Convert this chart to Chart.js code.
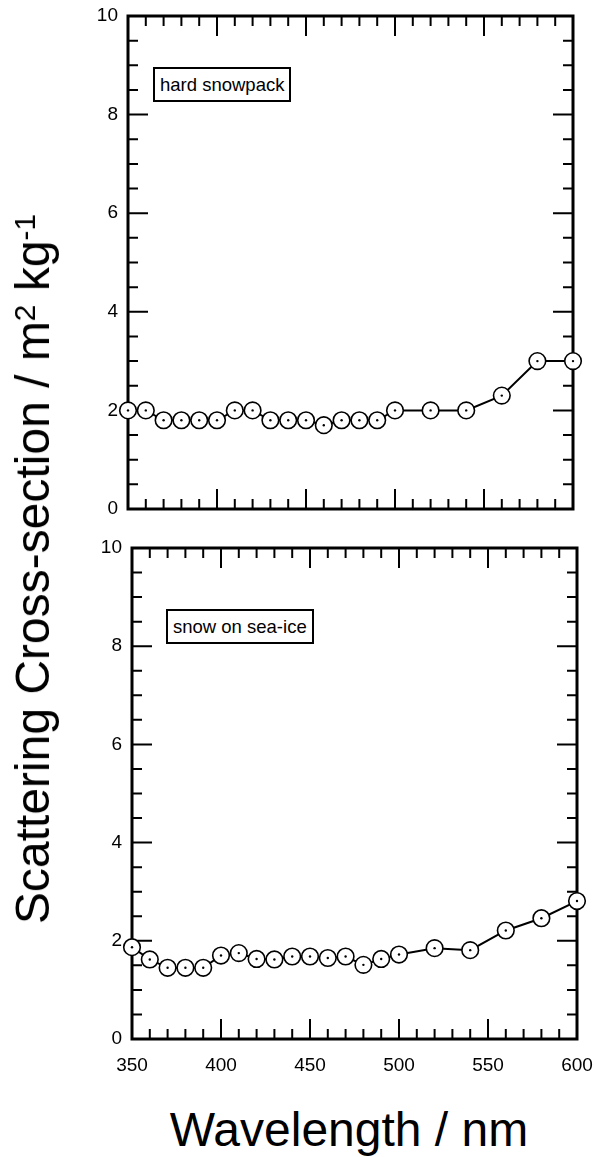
<!DOCTYPE html>
<html>
<head>
<meta charset="utf-8">
<script src="https://cdn.jsdelivr.net/npm/chart.js@4.4.1/dist/chart.umd.min.js"></script>
<style>
  body { margin: 0; background: #fff; font-family: "Liberation Sans", Arial, sans-serif; }
  #wrap { position: relative; width: 595px; height: 1157px; overflow: hidden; }
  canvas { position: absolute; left: 0; }
  #topPanel { top: 0; }
  #bottomPanel { top: 530px; }
  .tag {
    position: absolute; border: 2px solid #000; background: #fff;
    font-size: 18.5px; line-height: 31px; padding: 0 5px; white-space: nowrap; color: #000;
  }
  .axisTitle { position: absolute; font-size: 48px; line-height: 48px; white-space: nowrap; color: #000; }
  .axisTitle .sup { font-size: 30px; position: relative; top: -14px; }
  #ytitle { left: 36px; top: 569px; transform: translate(-50%, -50%) rotate(-90deg); }
  #xtitle { left: 349px; top: 1106px; transform: translateX(-50%); }
</style>
</head>
<body>
<div id="wrap">
  <canvas id="topPanel" width="595" height="530"></canvas>
  <canvas id="bottomPanel" width="595" height="560"></canvas>
  <div class="tag" style="left:153px; top:67px;">hard snowpack</div>
  <div class="tag" style="left:166px; top:609px;">snow on sea-ice</div>
  <div class="axisTitle" id="ytitle">Scattering Cross-section / m<span class="sup">2</span> kg<span class="sup">-1</span></div>
  <div class="axisTitle" id="xtitle">Wavelength / nm</div>
</div>
<script>
// wavelength (nm) and scattering cross-section (m2 kg-1)
const wavelength = [350, 360, 370, 380, 390, 400, 410, 420, 430, 440, 450, 460, 470, 480, 490, 500, 520, 540, 560, 580, 600];
const hardSnowpack = [2.0, 2.0, 1.8, 1.8, 1.8, 1.8, 2.0, 2.0, 1.8, 1.8, 1.8, 1.7, 1.8, 1.8, 1.8, 2.0, 2.0, 2.0, 2.3, 3.0, 3.0];
const snowOnSeaIce = [1.87, 1.62, 1.45, 1.45, 1.45, 1.70, 1.75, 1.63, 1.62, 1.68, 1.68, 1.65, 1.68, 1.51, 1.63, 1.72, 1.85, 1.81, 2.21, 2.46, 2.81];

const X_MIN = 350, X_MAX = 600, X_STEP = 50, X_MINOR = 10;
const Y_MIN = 0, Y_MAX = 10, Y_STEP = 2, Y_MINOR = 0.5;

Chart.defaults.font.family = '"Liberation Sans", Arial, sans-serif';
Chart.defaults.font.size = 19;
Chart.defaults.color = '#000';

// box frame with inward ticks on all four sides
const frameTicks = {
  id: 'frameTicks',
  beforeDatasetsDraw(chart) {
    const { ctx, chartArea: a, scales: { x, y } } = chart;
    ctx.save();
    ctx.strokeStyle = '#000';
    ctx.lineWidth = 2;
    ctx.beginPath();
    for (let v = X_MIN; v <= X_MAX + 1e-9; v += X_MINOR) {
      const px = x.getPixelForValue(v);
      const len = Math.abs(v % X_STEP) < 1e-9 ? 20 : 10;
      ctx.moveTo(px, a.bottom); ctx.lineTo(px, a.bottom - len);
      ctx.moveTo(px, a.top); ctx.lineTo(px, a.top + len);
    }
    for (let v = Y_MIN; v <= Y_MAX + 1e-9; v += Y_MINOR) {
      const py = y.getPixelForValue(v);
      const len = Math.abs(v % Y_STEP) < 1e-9 ? 20 : 10;
      ctx.moveTo(a.left, py); ctx.lineTo(a.left + len, py);
      ctx.moveTo(a.right, py); ctx.lineTo(a.right - len, py);
    }
    ctx.stroke();
    ctx.lineWidth = 3;
    ctx.strokeRect(a.left, a.top, a.right - a.left, a.bottom - a.top);
    ctx.restore();
  }
};

function makePanel(id, values, showX, padding) {
  const pts = wavelength.map((w, i) => ({ x: w, y: values[i] }));
  return new Chart(document.getElementById(id), {
    type: 'line',
    data: {
      datasets: [
        {
          data: pts, order: 0, showLine: false, clip: false,
          pointRadius: 1.2, pointBorderWidth: 0, pointBackgroundColor: '#000'
        },
        {
          data: pts, order: 1, clip: false,
          borderColor: '#000', borderWidth: 2, tension: 0,
          pointRadius: 8.3, pointBorderWidth: 1.6,
          pointBorderColor: '#000', pointBackgroundColor: '#fff'
        }
      ]
    },
    options: {
      responsive: false,
      animation: false,
      events: [],
      layout: { padding },
      plugins: { legend: { display: false }, tooltip: { enabled: false } },
      scales: {
        x: {
          type: 'linear', min: X_MIN, max: X_MAX,
          grid: { display: false, drawTicks: false },
          border: { display: false },
          ticks: { display: showX, stepSize: X_STEP, autoSkip: false, maxRotation: 0, padding: 15 },
          afterFit: s => {
            s.height = showX ? 40 : 0;
            s.paddingLeft = 0;
            s.paddingRight = 0;
          }
        },
        y: {
          min: Y_MIN, max: Y_MAX,
          grid: { display: false, drawTicks: false },
          border: { display: false },
          ticks: { stepSize: Y_STEP, padding: 10 },
          afterFit: s => {
            s.width = 60;
            s.paddingTop = 0;
            s.paddingBottom = 0;
          }
        }
      }
    },
    plugins: [frameTicks]
  });
}

makePanel('topPanel', hardSnowpack, false, { left: 68, right: 22, top: 16, bottom: 21 });
makePanel('bottomPanel', snowOnSeaIce, true, { left: 72, right: 18, top: 18, bottom: 11 });
</script>
</body>
</html>
